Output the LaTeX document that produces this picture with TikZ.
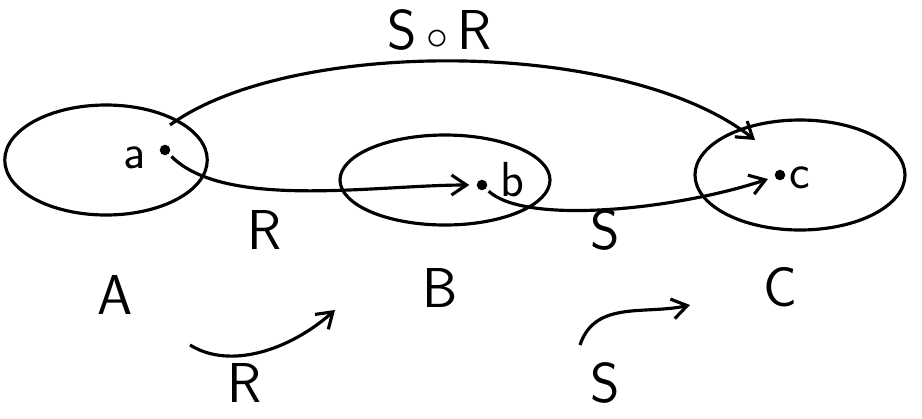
\documentclass[tikz,border=0pt]{standalone}
\usetikzlibrary{shapes.geometric,arrows.meta}
\begin{document}
\begin{tikzpicture}[
  set/.style={draw, ellipse, line width=1.8pt},
  pt/.style={circle, fill, inner sep=0pt, minimum size=6pt},
  lab/.style={font=\fontsize{32}{34}\selectfont\sffamily},
  sm/.style={font=\fontsize{28}{30}\selectfont\sffamily},
  arr/.style={line width=1.8pt, -{Straight Barb[length=3mm,width=4mm]}}
]
\useasboundingbox (0,0) rectangle (18.44,-8.36);
% sets
\node[set, minimum width=4.05cm, minimum height=2.2cm] (A) at (2.12,-3.2) {};
\node[set, minimum width=4.2cm, minimum height=1.8cm] (B) at (8.9,-3.6) {};
\node[set, minimum width=4.2cm, minimum height=2.2cm] (C) at (16.0,-3.5) {};
% points
\node[pt] (a) at (3.3,-3.0) {};
\node[pt] (b) at (9.64,-3.7) {};
\node[pt] (c) at (15.6,-3.5) {};
\node[sm] (la) at (2.7,-3.15) {a};
\node[sm] (lb) at (10.25,-3.6) {b};
\node[sm] (lc) at (16.0,-3.55) {c};
% set labels
\node[lab] (tA) at (2.3,-5.9) {A};
\node[lab] (tB) at (8.8,-5.75) {B};
\node[lab] (tC) at (15.6,-5.75) {C};
% arrows
\draw[arr, shorten <=2pt, shorten >=4pt] (a) .. controls (4.5,-4.2) and (7.5,-3.7) .. (b);
\draw[arr, shorten <=2pt, shorten >=4pt] (b) .. controls (10.5,-4.5) and (13.5,-4.2) .. (c);
\coordinate (send) at (15.1,-2.8);
\coordinate (sstart) at (3.4,-2.5);
\draw[arr] (sstart) .. controls (5.8,-0.75) and (12.5,-0.75) .. (send);
\node[lab] (lR) at (5.3,-4.6) {R};
\node[lab] (lS) at (12.1,-4.6) {S};
\node[lab] (lSR) at (8.8,-0.6) {S\,$\circ$\,R};
% bottom arrows
\coordinate (r1) at (3.8,-6.9);
\coordinate (r2) at (6.7,-6.2);
\draw[arr] (r1) .. controls (4.6,-7.4) and (5.8,-7.0) .. (r2);
\node[lab] (bR) at (4.9,-7.65) {R};
\coordinate (s1) at (11.6,-6.9);
\coordinate (s2) at (13.8,-6.1);
\draw[arr] (s1) .. controls (11.9,-6.0) and (12.9,-6.3) .. (s2);
\node[lab] (bS) at (12.1,-7.65) {S};
\end{tikzpicture}
\end{document}
